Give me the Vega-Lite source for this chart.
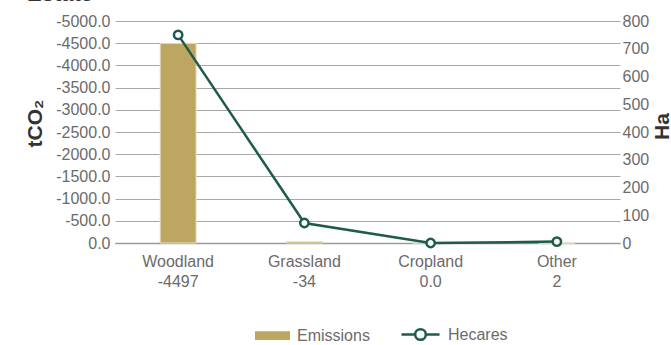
{
  "$schema": "https://vega.github.io/schema/vega-lite/v6.json",
  "autosize": {"type": "none"},
  "width": 505,
  "height": 222,
  "padding": {"left": 115, "top": 21, "right": 51, "bottom": 102},
  "background": "white",
  "title": {
    "text": "Estate",
    "anchor": "start",
    "frame": "group",
    "dx": -88,
    "offset": 7,
    "fontSize": 22,
    "fontWeight": "bold",
    "color": "#333333",
    "font": "Liberation Sans"
  },
  "config": {
    "font": "Liberation Sans",
    "view": {"stroke": null},
    "axis": {
      "labelFont": "Liberation Sans",
      "labelFontSize": 16,
      "labelColor": "#6b6b6b",
      "titleFont": "Liberation Sans",
      "titleColor": "#333333",
      "titleFontSize": 21,
      "titleFontWeight": "bold"
    },
    "legend": {
      "labelFont": "Liberation Sans",
      "labelFontSize": 16,
      "labelColor": "#6b6b6b"
    }
  },
  "data": {
    "values": [
      {"label": "Woodland|-4497", "emissions": -4497, "hectares": 750},
      {"label": "Grassland|-34", "emissions": -34, "hectares": 72},
      {"label": "Cropland|0.0", "emissions": 0, "hectares": 0},
      {"label": "Other|2", "emissions": 2, "hectares": 5}
    ]
  },
  "encoding": {
    "x": {
      "field": "label",
      "type": "nominal",
      "sort": null,
      "scale": {"paddingInner": 0, "paddingOuter": 0},
      "axis": {
        "title": null,
        "labelAngle": 0,
        "labelExpr": "split(datum.value, '|')",
        "labelLineHeight": 20,
        "labelPadding": 10,
        "ticks": false,
        "domain": true,
        "domainColor": "#9a9a9a",
        "domainWidth": 1.5
      }
    }
  },
  "layer": [
    {
      "mark": {"type": "bar", "size": 36, "stroke": "#ece3c8", "strokeWidth": 1},
      "encoding": {
        "y": {
          "field": "emissions",
          "type": "quantitative",
          "scale": {"domain": [0, -5000], "nice": false},
          "axis": {
            "title": "tCO₂",
            "titleAngle": 270,
            "titlePadding": 10,
            "titleY": 102,
            "labelExpr": "replace(format(datum.value, '.1f'), '−', '-')",
            "values": [0, -500, -1000, -1500, -2000, -2500, -3000, -3500, -4000, -4500, -5000],
            "ticks": false,
            "domain": false,
            "labelPadding": 5,
            "grid": true,
            "gridColor": "#a8a8a8",
            "gridWidth": 1
          }
        },
        "fill": {
          "datum": "Emissions",
          "type": "nominal",
          "scale": {"range": ["#BDA562"]},
          "legend": {
            "title": null,
            "orient": "none",
            "legendX": 140,
            "legendY": 297,
            "padding": 0,
            "labelOffset": 7,
            "symbolType": "M-1,-0.25H1V0.25H-1Z",
            "symbolSize": 1225,
            "symbolStrokeWidth": 0,
            "symbolOpacity": 1
          }
        }
      }
    },
    {
      "mark": {
        "type": "line",
        "strokeWidth": 2.5,
        "point": {"filled": false, "fill": "white", "size": 70, "strokeWidth": 2.5}
      },
      "encoding": {
        "y": {
          "field": "hectares",
          "type": "quantitative",
          "scale": {"domain": [0, 800], "nice": false},
          "axis": {
            "orient": "right",
            "title": "Ha",
            "titleAngle": 270,
            "titlePadding": 24,
            "titleY": 105,
            "values": [0, 100, 200, 300, 400, 500, 600, 700, 800],
            "ticks": false,
            "domain": false,
            "grid": false,
            "labelPadding": 2
          }
        },
        "stroke": {
          "datum": "Hecares",
          "type": "nominal",
          "scale": {"range": ["#1E5B4C"]},
          "legend": {
            "title": null,
            "orient": "none",
            "legendX": 285,
            "legendY": 293,
            "padding": 0,
            "labelOffset": 7,
            "symbolType": "M-1,0H-0.28M0.28,0H1M0.28,0A0.28,0.28,0,1,1,-0.28,0A0.28,0.28,0,1,1,0.28,0",
            "symbolSize": 1444,
            "symbolStrokeWidth": 2.5,
            "symbolFillColor": "white",
            "symbolOpacity": 1
          }
        }
      }
    }
  ],
  "resolve": {"scale": {"y": "independent"}}
}
